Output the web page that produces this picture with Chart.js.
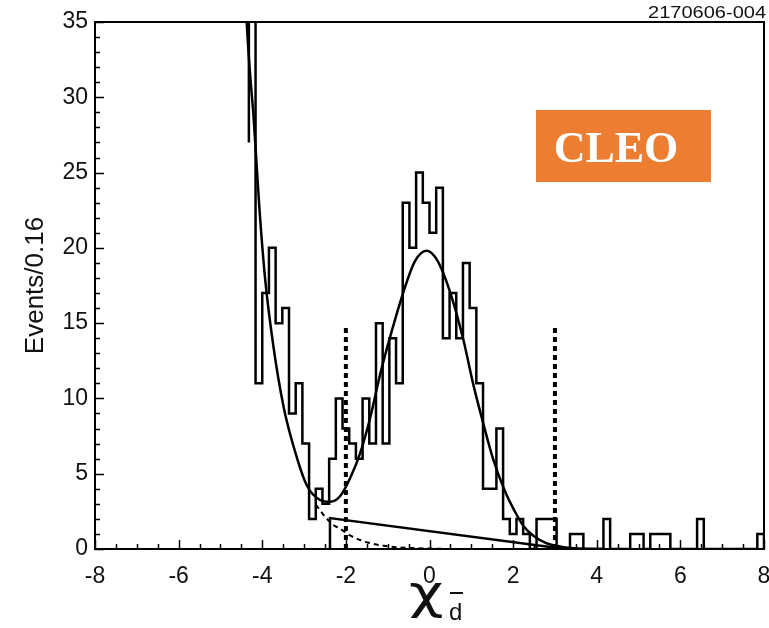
<!DOCTYPE html>
<html>
<head>
<meta charset="utf-8">
<title>Events per bin vs chi</title>
<script src="https://cdn.jsdelivr.net/npm/chart.js@4.4.1/dist/chart.umd.min.js"></script>
<style>
    html, body { margin: 0; padding: 0; background: #ffffff; }
    canvas { display: block; }
</style>
</head>
<body>
<canvas id="chiChart" width="769" height="628"></canvas>
<script>
// Histogram: 100 bins of width 0.16 from -8 to 8
const histLow = -8;
const binWidth = 0.16;
const binCounts = [
    0, 0, 0, 0, 0, 0, 0, 0, 0, 0,
    0, 0, 0, 0, 0, 0, 0, 0, 0, 0,
    0, 0, 0, 40, 11, 17, 20, 15, 16, 9,
    11, 7, 2, 4, 3, 6, 10, 8, 7, 6,
    10, 7, 15, 7, 14, 11, 23, 20, 25, 23,
    21, 24, 14, 17, 14, 19, 16, 11, 4, 4,
    8, 2, 1, 2, 1, 0, 2, 2, 2, 0,
    0, 1, 1, 0, 0, 0, 2, 0, 0, 0,
    1, 1, 0, 1, 1, 1, 0, 0, 0, 0,
    2, 0, 0, 0, 0, 0, 0, 0, 0, 1
];
// the outline opens on the first filled bin, entering from this height
const histOpenLevel = 27;

// Total fit curve
const fitX = [-4.42, -4.37, -4.29, -4.21, -4.07, -3.93, -3.73, -3.49, -3.25, -2.93,
              -2.61, -2.38, -2.14, -1.90, -1.66, -1.42, -1.18, -0.90, -0.62, -0.35,
              -0.07, 0.20, 0.50, 0.81, 1.05, 1.29, 1.53, 1.81, 2.04, 2.24,
              2.50, 2.80, 3.20, 3.60, 4.20];
const fitY = [38.0, 34.9, 31.5, 28.8, 22.7, 17.9, 13.4, 9.45, 6.8, 4.2,
              3.25, 3.14, 3.5, 4.7, 6.35, 8.7, 11.6, 14.5, 17.1, 19.1,
              19.8, 19.1, 17.0, 13.9, 10.9, 8.3, 5.9, 3.8, 2.5, 1.55,
              0.85, 0.38, 0.12, 0.03, 0];

// Tail of the low-side component (dashed)
const tailX = [-2.72, -2.50, -2.30, -2.14, -1.90, -1.66, -1.40, -1.10, -0.80, -0.40, 0.00, 0.50];
const tailY = [2.95, 2.15, 1.6, 1.35, 0.9, 0.6, 0.38, 0.22, 0.12, 0.06, 0.03, 0];

// Linear background under the peak
const bkgX = [-2.38, -2.38, 3.25];
const bkgY = [0, 2.05, 0];

// Selection window
const cutX = [-2, 3];
const cutTop = 14.7;

// Axis ticks
const xTickStep = 2;
const yTickStep = 5;

const LINE = '#000000';
const TEXT = '#111111';
const SANS = '"Liberation Sans", Arial, sans-serif';

document.addEventListener('DOMContentLoaded', function() {
    initChiChart();
});

function toPoints(xs, ys) {
    return xs.map((x, i) => ({ x: x, y: ys[i] }));
}

// Step outline of the histogram: one point per bin left edge, closing at the upper edge
function histogramPoints() {
    const first = binCounts.findIndex(c => c > 0);
    const pts = [{ x: histLow + first * binWidth, y: histOpenLevel }];
    for (let i = first; i < binCounts.length; i++) {
        pts.push({ x: histLow + i * binWidth, y: binCounts[i] });
    }
    pts.push({ x: histLow + binCounts.length * binWidth, y: 0 });
    return pts;
}

// Frame, inside ticks and extra labels
const framePlugin = {
    id: 'frame',
    afterDatasetsDraw(chart) {
        const { ctx, chartArea: a, scales: { x, y } } = chart;
        ctx.save();
        ctx.strokeStyle = LINE;
        ctx.lineWidth = 2;
        ctx.strokeRect(a.left, a.top, a.right - a.left, a.bottom - a.top);

        ctx.lineWidth = 1.5;
        ctx.beginPath();
        for (let v = -8; v <= 8.001; v += 0.5) {
            const px = Math.round(x.getPixelForValue(v)) + 0.5;
            const len = Math.abs(v % 2) < 1e-6 ? 9 : 5;
            ctx.moveTo(px, a.bottom);
            ctx.lineTo(px, a.bottom - len);
        }
        for (let v = 0; v <= 35; v += 1) {
            const py = Math.round(y.getPixelForValue(v)) + 0.5;
            const len = v % 5 === 0 ? 9 : 5;
            ctx.moveTo(a.left, py);
            ctx.lineTo(a.left + len, py);
        }
        ctx.stroke();
        ctx.restore();
    },
    afterDraw(chart) {
        const { ctx } = chart;
        ctx.save();

        // Plot id, top right
        ctx.fillStyle = TEXT;
        ctx.font = '16px ' + SANS;
        ctx.textAlign = 'right';
        ctx.textBaseline = 'alphabetic';
        ctx.translate(766, 18);
        ctx.scale(1.25, 1);
        ctx.fillText('2170606-004', 0, 0);
        ctx.setTransform(1, 0, 0, 1, 0, 0);

        // Experiment tag
        ctx.fillStyle = '#ED7D31';
        ctx.fillRect(536, 110, 175, 72);
        ctx.fillStyle = '#ffffff';
        ctx.font = 'bold 44px "Liberation Serif", "Times New Roman", serif';
        ctx.textAlign = 'center';
        ctx.fillText('CLEO', 616, 162);

        // x axis title: chi with anti-d subscript
        ctx.fillStyle = TEXT;
        ctx.textAlign = 'left';
        ctx.font = '46px "DejaVu Sans", sans-serif';
        ctx.translate(409, 608);
        ctx.scale(1.3, 1);
        ctx.fillText('χ', 0, 0);
        ctx.setTransform(1, 0, 0, 1, 0, 0);
        ctx.font = '24px ' + SANS;
        ctx.fillText('d', 449, 620);
        ctx.fillRect(450, 592, 13, 2);

        ctx.restore();
    }
};

function initChiChart() {
    const ctx = document.getElementById('chiChart').getContext('2d');

    const chart = new Chart(ctx, {
        type: 'line',
        data: {
            datasets: [
                {
                    label: 'Data',
                    data: histogramPoints(),
                    stepped: true,
                    borderColor: LINE,
                    borderWidth: 2.5,
                    pointRadius: 0,
                    fill: false
                },
                {
                    label: 'Fit',
                    data: toPoints(fitX, fitY),
                    cubicInterpolationMode: 'monotone',
                    borderColor: LINE,
                    borderWidth: 2.5,
                    pointRadius: 0,
                    fill: false
                },
                {
                    label: 'Low-side tail',
                    data: toPoints(tailX, tailY),
                    cubicInterpolationMode: 'monotone',
                    borderColor: LINE,
                    borderWidth: 2,
                    borderDash: [5, 4],
                    pointRadius: 0,
                    fill: false
                },
                {
                    label: 'Background',
                    data: toPoints(bkgX, bkgY),
                    borderColor: LINE,
                    borderWidth: 2.5,
                    pointRadius: 0,
                    fill: false
                },
                {
                    label: 'Cut low',
                    data: [{ x: cutX[0], y: 0 }, { x: cutX[0], y: cutTop }],
                    borderColor: LINE,
                    borderWidth: 4,
                    borderDash: [5, 4],
                    pointRadius: 0,
                    fill: false
                },
                {
                    label: 'Cut high',
                    data: [{ x: cutX[1], y: 0 }, { x: cutX[1], y: cutTop }],
                    borderColor: LINE,
                    borderWidth: 4,
                    borderDash: [5, 4],
                    pointRadius: 0,
                    fill: false
                }
            ]
        },
        options: {
            responsive: false,
            animation: false,
            layout: {
                padding: { top: 22, right: 5, left: 0, bottom: 0 }
            },
            plugins: {
                legend: { display: false },
                tooltip: { enabled: false }
            },
            scales: {
                x: {
                    type: 'linear',
                    min: -8,
                    max: 8,
                    grid: { display: false, drawTicks: false },
                    border: { display: false },
                    ticks: {
                        stepSize: xTickStep,
                        padding: 14,
                        color: TEXT,
                        font: { family: SANS, size: 23 },
                        maxRotation: 0
                    },
                    afterFit: function(scale) {
                        scale.height = 79;
                        // let the end labels hang over the plot edges
                        scale.paddingLeft = 0;
                        scale.paddingRight = 0;
                    }
                },
                y: {
                    min: 0,
                    max: 35,
                    grid: { display: false, drawTicks: false },
                    border: { display: false },
                    ticks: {
                        stepSize: yTickStep,
                        padding: 7,
                        color: TEXT,
                        font: { family: SANS, size: 23 }
                    },
                    title: {
                        display: true,
                        text: 'Events/0.16',
                        color: TEXT,
                        font: { family: SANS, size: 26 },
                        padding: { top: 20, bottom: 0 }
                    },
                    afterFit: function(scale) { scale.width = 95; }
                }
            }
        },
        plugins: [framePlugin]
    });

    window.chiChart = chart;
}
</script>
</body>
</html>
